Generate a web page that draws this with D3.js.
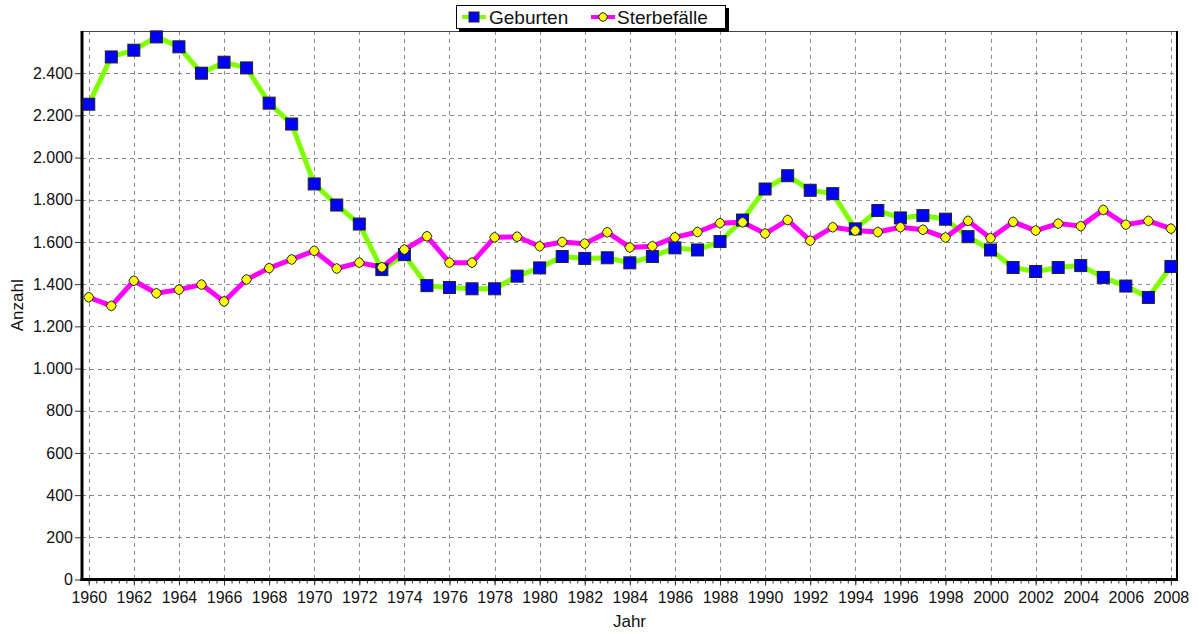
<!DOCTYPE html>
<html>
<head>
<meta charset="utf-8">
<script src="https://cdn.jsdelivr.net/npm/d3@7"></script>
<style>
  html, body { margin: 0; padding: 0; background: #fff; }
  svg { display: block; font-family: "Liberation Sans", Arial, sans-serif; }
  .grid line { stroke: #8a8a8a; stroke-width: 1; stroke-dasharray: 4 4; shape-rendering: crispEdges; }
  .tick-label { font-size: 16px; fill: #111; }
</style>
</head>
<body>
<svg id="chart" width="1199" height="634"></svg>
<script>
(function () {
  'use strict';

  // ── Data ──────────────────────────────────────────────────────────────────
  var years = d3.range(1960, 2009);
  var geburten = [
    2253, 2477, 2509, 2572, 2525, 2400, 2452, 2425, 2258, 2159,
    1875, 1775, 1685, 1469, 1540, 1393, 1384, 1378, 1378, 1438,
    1477, 1531, 1522, 1525, 1501, 1531, 1572, 1562, 1602, 1704,
    1851, 1914, 1845, 1829, 1662, 1749, 1714, 1725, 1708, 1625,
    1562, 1479, 1460, 1479, 1488, 1432, 1391, 1337, 1484
  ];
  var sterbefaelle = [
    1338, 1297, 1416, 1357, 1374, 1398, 1318, 1422, 1476, 1517,
    1558, 1474, 1502, 1480, 1564, 1627, 1502, 1502, 1622, 1625,
    1580, 1600, 1592, 1646, 1574, 1580, 1622, 1647, 1689, 1693,
    1640, 1704, 1606, 1670, 1654, 1647, 1670, 1658, 1621, 1700,
    1618, 1695, 1654, 1687, 1675, 1752, 1682, 1700, 1663
  ];
  var yTicks = d3.range(0, 2401, 200);
  var xTicks = d3.range(1960, 2009, 2);

  // ── Setup ─────────────────────────────────────────────────────────────────
  var L = 82, R = 1177, T = 31, B = 579.5;
  var svg = d3.select('#chart');

  var x = d3.scaleLinear().domain([1959.7, 2008.27]).range([L, R]);
  var y = d3.scaleLinear().domain([0, 2600]).range([B, T]);

  var de = d3.formatLocale({ decimal: ',', thousands: '.', grouping: [3], currency: ['', ' €'] });
  var fmt = de.format(',d');

  // ── Grid ──────────────────────────────────────────────────────────────────
  var grid = svg.append('g').attr('class', 'grid');
  grid.selectAll('line.h').data(yTicks.filter(function (v) { return v > 0; })).join('line')
    .attr('class', 'h')
    .attr('x1', L).attr('x2', R)
    .attr('y1', function (d) { return Math.round(y(d)) + 0.5; })
    .attr('y2', function (d) { return Math.round(y(d)) + 0.5; });
  grid.selectAll('line.v').data(xTicks).join('line')
    .attr('class', 'v')
    .attr('y1', T).attr('y2', B)
    .attr('x1', function (d) { return Math.round(x(d)) + 0.5; })
    .attr('x2', function (d) { return Math.round(x(d)) + 0.5; });

  // ── Axes ──────────────────────────────────────────────────────────────────
  var yAxis = d3.axisLeft(y).tickValues(yTicks).tickFormat(fmt).tickSize(6).tickPadding(2);
  var xAxis = d3.axisBottom(x).tickValues(xTicks).tickFormat(d3.format('d')).tickSize(5).tickPadding(6);
  var xMinor = d3.axisBottom(x).tickValues(d3.range(1960, 2008.01, 1 / 3)).tickFormat('').tickSize(3);

  function styleAxis(g) {
    g.select('.domain').remove();
    g.selectAll('.tick line').attr('stroke', '#333');
    g.selectAll('.tick text').attr('class', 'tick-label').attr('font-family', null).attr('font-size', null);
  }

  svg.append('g').attr('transform', 'translate(' + (L - 1) + ',0)').call(yAxis).call(styleAxis);
  svg.append('g').attr('transform', 'translate(0,' + (B + 1) + ')').call(xMinor).call(styleAxis);
  svg.append('g').attr('transform', 'translate(0,' + (B + 1) + ')').call(xAxis).call(styleAxis);

  // frame
  svg.append('line').attr('x1', L).attr('x2', R).attr('y1', T + 0.5).attr('y2', T + 0.5)
    .attr('stroke', '#444').attr('stroke-width', 1);
  svg.append('line').attr('x1', R).attr('x2', R).attr('y1', T).attr('y2', B + 1)
    .attr('stroke', '#000').attr('stroke-width', 2);
  svg.append('line').attr('x1', L).attr('x2', L).attr('y1', T).attr('y2', B + 1.5)
    .attr('stroke', '#000').attr('stroke-width', 3);
  svg.append('line').attr('x1', L - 1.5).attr('x2', R + 1).attr('y1', B).attr('y2', B)
    .attr('stroke', '#000').attr('stroke-width', 3);

  // axis titles
  svg.append('text').attr('x', (L + R) / 2).attr('y', 627).attr('text-anchor', 'middle')
    .attr('font-size', 17).attr('fill', '#111').text('Jahr');
  svg.append('text').attr('transform', 'translate(23,' + ((T + B) / 2) + ') rotate(-90)')
    .attr('text-anchor', 'middle').attr('font-size', 17).attr('fill', '#111').text('Anzahl');

  // ── Series ────────────────────────────────────────────────────────────────
  var line = d3.line()
    .x(function (d, i) { return x(years[i]); })
    .y(function (d) { return y(d); });

  svg.append('path').datum(geburten).attr('d', line)
    .attr('fill', 'none').attr('stroke', '#80ff00').attr('stroke-width', 5).attr('stroke-linejoin', 'round');
  svg.append('path').datum(sterbefaelle).attr('d', line)
    .attr('fill', 'none').attr('stroke', '#ff00ff').attr('stroke-width', 5).attr('stroke-linejoin', 'round');

  svg.append('g').selectAll('rect').data(geburten).join('rect')
    .attr('x', function (d, i) { return x(years[i]) - 6; })
    .attr('y', function (d) { return y(d) - 6; })
    .attr('width', 12).attr('height', 12)
    .attr('fill', '#0000ff').attr('stroke', '#222').attr('stroke-width', 1);

  svg.append('g').selectAll('path').data(sterbefaelle).join('path')
    .attr('transform', function (d, i) { return 'translate(' + x(years[i]) + ',' + y(d) + ')'; })
    .attr('d', 'M0,-5L3,-3.5L5,0L3,3.5L0,5L-3,3.5L-5,0L-3,-3.5Z')
    .attr('fill', '#ffff00').attr('stroke', '#222').attr('stroke-width', 1);

  // ── Legend ────────────────────────────────────────────────────────────────
  var lg = svg.append('g');
  lg.append('rect').attr('x', 459).attr('y', 8).attr('width', 270).attr('height', 24).attr('fill', '#000');
  lg.append('rect').attr('x', 456.5).attr('y', 5.5).attr('width', 269).attr('height', 23)
    .attr('fill', '#fff').attr('stroke', '#000').attr('stroke-width', 1);

  lg.append('line').attr('x1', 462).attr('x2', 486).attr('y1', 17).attr('y2', 17)
    .attr('stroke', '#80ff00').attr('stroke-width', 4);
  lg.append('rect').attr('x', 469).attr('y', 12).attr('width', 10).attr('height', 10)
    .attr('fill', '#0000ff').attr('stroke', '#222');
  lg.append('text').attr('x', 489).attr('y', 24).attr('font-size', 19).attr('fill', '#111').text('Geburten');

  lg.append('line').attr('x1', 591).attr('x2', 615).attr('y1', 17).attr('y2', 17)
    .attr('stroke', '#ff00ff').attr('stroke-width', 4);
  lg.append('path').attr('transform', 'translate(603,17)')
    .attr('d', 'M0,-4.5L3,-3L4.5,0L3,3L0,4.5L-3,3L-4.5,0L-3,-3Z')
    .attr('fill', '#ffff00').attr('stroke', '#222');
  lg.append('text').attr('x', 617).attr('y', 24).attr('font-size', 19).attr('fill', '#111').text('Sterbefälle');
})();
</script>
</body>
</html>
